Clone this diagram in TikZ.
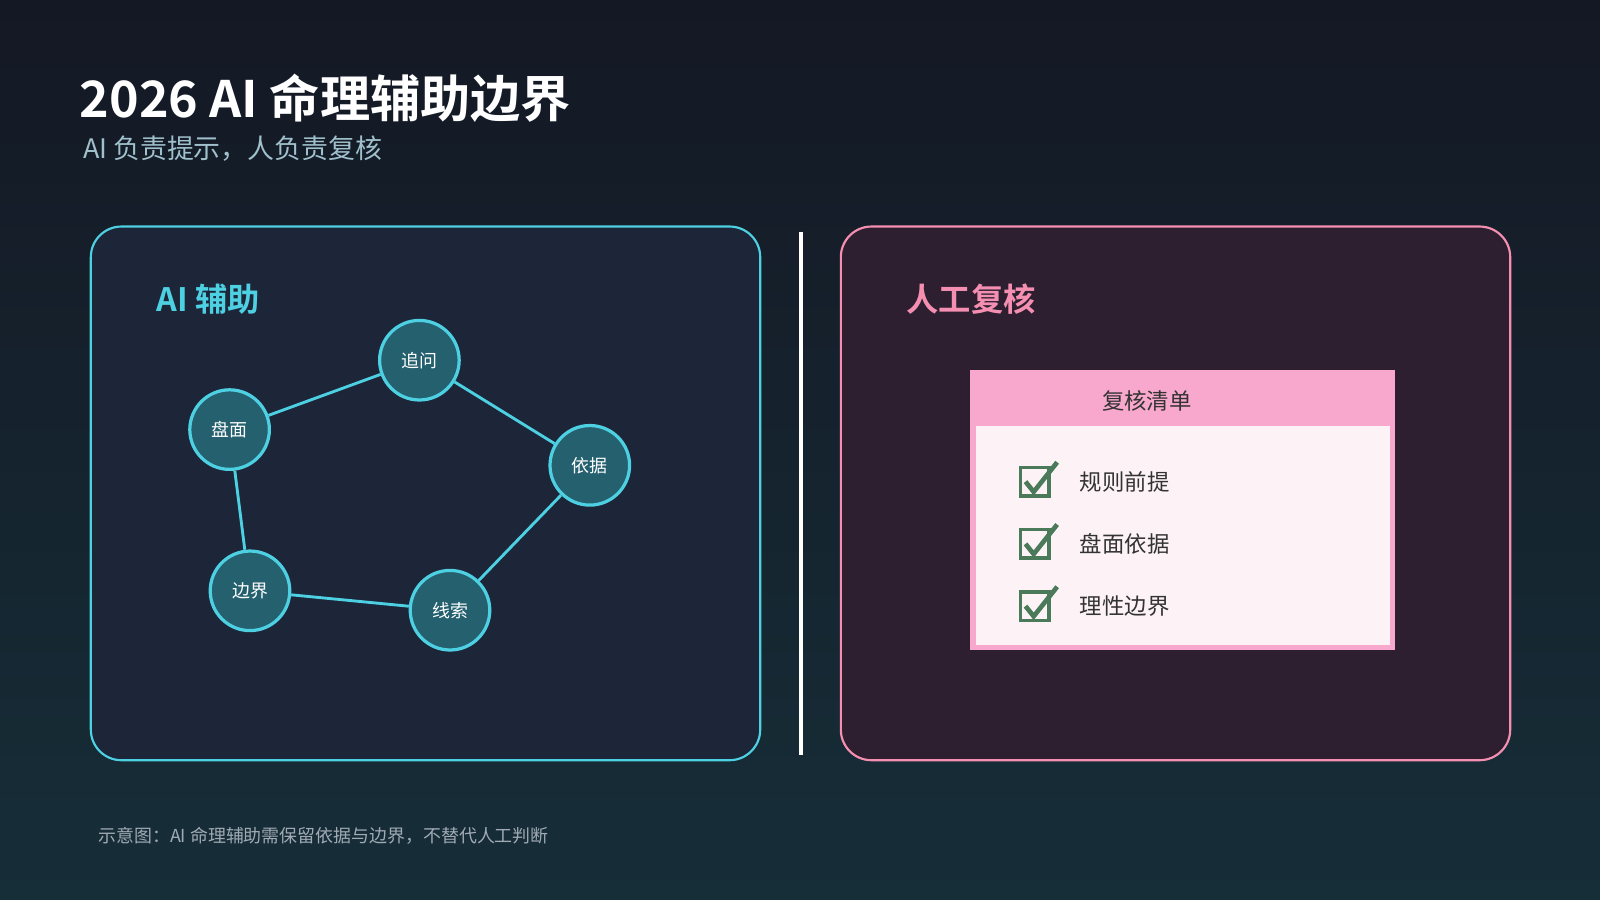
\documentclass[tikz,border=0pt]{standalone}
\usepackage{fontspec}
\usetikzlibrary{calc}
\setmainfont{Noto Sans CJK SC}
\newfontfamily\cjkb{Noto Sans CJK SC Bold}
\begin{document}
\begin{tikzpicture}[x=0.02cm,y=-0.02cm,
  bub/.style={circle,fill=bubfill,line width=1.8pt,minimum size=1.56cm,inner sep=0pt,text=white,font=\fontsize{10}{12}\selectfont},
  edge/.style={draw=bcyan,line width=1.6pt},
  chk/.style={draw=cgreen,line width=2pt,minimum size=0.56cm,inner sep=0pt},
  item/.style={anchor=west,text=itemtext,font=\fontsize{12.5}{15}\selectfont}]
\definecolor{bgtop}{HTML}{141824}\definecolor{bgbot}{HTML}{162E38}
\definecolor{bcyan}{HTML}{4DD0E1}\definecolor{bubfill}{HTML}{25606F}
\definecolor{lpanel}{HTML}{1D2539}\definecolor{rpanel}{HTML}{2D1F30}
\definecolor{bpink}{HTML}{F48FB1}
\definecolor{ppink}{HTML}{F8A8CC}\definecolor{inner}{HTML}{FDF3F6}
\definecolor{cgreen}{HTML}{4A7A5A}\definecolor{itemtext}{HTML}{333333}
\definecolor{subc}{HTML}{9FC0CC}\definecolor{footc}{HTML}{A0AAB4}
\shade[top color=bgtop,bottom color=bgbot] (0,0) rectangle (1568,882);
\useasboundingbox (0,0) rectangle (1568,882);
\node[anchor=base west,text=white,font=\cjkb\fontsize{28}{32}\selectfont,inner sep=0] (title) at (78,115) {2026 AI 命理辅助边界};
\node[anchor=base west,text=subc,font=\fontsize{15}{18}\selectfont,inner sep=0] (sub) at (81,155) {AI 负责提示，人负责复核};
\draw[bcyan,fill=lpanel,line width=1.2pt,rounded corners=0.6cm] (89,222) rectangle (745,745);
\draw[white,line width=2pt] (785,227) -- (785,740);
\draw[bpink,fill=rpanel,line width=1.2pt,rounded corners=0.6cm] (824,222) rectangle (1480,745);
\node[anchor=base west,text=bcyan,font=\cjkb\fontsize{18}{22}\selectfont,inner sep=0] (lh) at (153,305) {AI 辅助};
\node[anchor=base west,text=bpink,font=\cjkb\fontsize{18}{22}\selectfont,inner sep=0] (rh) at (888,305) {人工复核};
\tikzset{bub/.append style={draw=bcyan}}
\node[bub] (a) at (411,353) {追问};
\node[bub] (b) at (225,421) {盘面};
\node[bub] (c) at (578,456) {依据};
\node[bub] (d) at (245,579) {边界};
\node[bub] (e) at (441,598) {线索};
\draw[edge] (b)--(a) (a)--(c) (c)--(e) (e)--(d) (d)--(b);
\fill[ppink] (951,363) rectangle (1367,637);
\fill[inner] (956,417) rectangle (1362,632);
\node[text=itemtext,font=\fontsize{12.5}{15}\selectfont] (hd) at (1124,393) {复核清单};
\foreach \y/\t/\n in {472/规则前提/i1,533/盘面依据/i2,594/理性边界/i3}{
  \node[chk] (box\n) at (1014,\y) {};
  \draw[cgreen,line width=2.6pt] ($(box\n)+(-9,0)$) -- ($(box\n)+(-1,10)$) -- ($(box\n)+(22,-19)$);
  \node[item] (\n) at (1052,\y) {\t};
}
\node[anchor=base west,text=footc,font=\fontsize{10}{12}\selectfont,inner sep=0] (foot) at (96,826) {示意图：AI 命理辅助需保留依据与边界，不替代人工判断};
\end{tikzpicture}
\end{document}
